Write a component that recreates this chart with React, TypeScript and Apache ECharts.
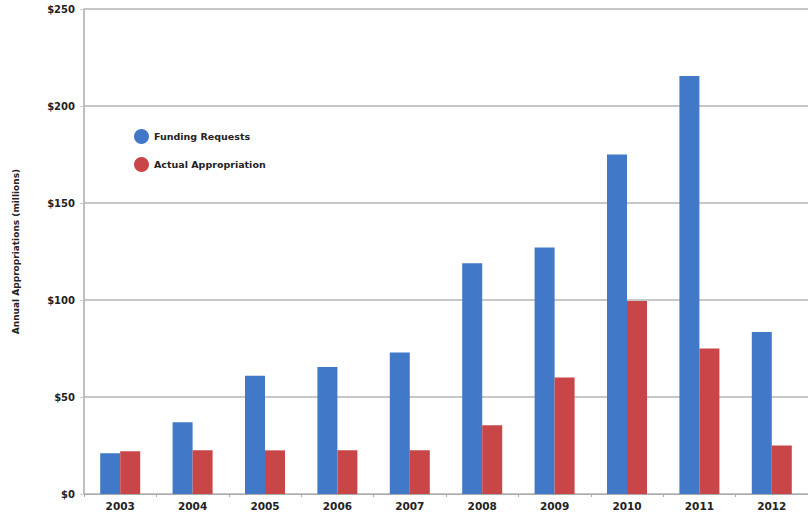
import React, { useEffect, useRef } from "react";
import * as echarts from "echarts";

const categories = ["2003", "2004", "2005", "2006", "2007", "2008", "2009", "2010", "2011", "2012"];
const fundingRequests = [21, 37, 61, 65.5, 73, 119, 127, 175, 215.5, 83.5];
const actualAppropriation = [22, 22.5, 22.5, 22.5, 22.5, 35.5, 60, 99.5, 75, 25];
const yTicks = [0, 50, 100, 150, 200, 250];

export default function App() {
  const ref = useRef<HTMLDivElement>(null);
  useEffect(() => {
    if (!ref.current) return;
    const chart = echarts.init(ref.current, null, { renderer: "svg" });
    const font = "DejaVu Sans";
    chart.setOption({
      animation: false,
      backgroundColor: "#ffffff",
      grid: { left: 84, right: -8, top: 9, bottom: 25, containLabel: false },
      legend: {
        orient: "vertical",
        left: 129,
        top: 124,
        itemGap: 13,
        itemWidth: 15,
        itemHeight: 15,
        icon: "circle",
        textStyle: { fontFamily: font, fontWeight: "bold", fontSize: 9.5, color: "#222" },
        data: ["Funding Requests", "Actual Appropriation"],
      },
      xAxis: {
        type: "category",
        data: categories,
        axisLine: { lineStyle: { color: "#aaa", width: 1 } },
        axisTick: { show: true, length: 3, lineStyle: { color: "#aaa" } },
        axisLabel: { fontFamily: font, fontWeight: "bold", fontSize: 10.5, color: "#222", margin: 6 },
      },
      yAxis: {
        type: "value",
        min: 0,
        max: 250,
        interval: 50,
        name: "Annual Appropriations (millions)",
        nameLocation: "middle",
        nameGap: 64,
        nameTextStyle: { fontFamily: font, fontWeight: "bold", fontSize: 9, color: "#222" },
        axisLine: { show: true, lineStyle: { color: "#aaa", width: 1.5 } },
        axisTick: { show: true, length: 4, lineStyle: { color: "#ccc" } },
        splitLine: { show: true, lineStyle: { color: "#b5b5b5", width: 1.5 } },
        axisLabel: {
          fontFamily: font,
          fontWeight: "bold",
          fontSize: 10,
          color: "#222",
          margin: 9,
          formatter: (v: number) => (yTicks.includes(v) ? "$" + v : ""),
        },
      },
      series: [
        {
          name: "Funding Requests",
          type: "bar",
          data: fundingRequests,
          barWidth: 20,
          barGap: "0%",
          itemStyle: { color: "#4179c8" },
        },
        {
          name: "Actual Appropriation",
          type: "bar",
          data: actualAppropriation,
          barWidth: 20,
          barGap: "0%",
          itemStyle: { color: "#c94648" },
        },
      ],
    });
    return () => chart.dispose();
  }, []);
  return (
    <div
      ref={ref}
      style={{ position: "fixed", left: 0, top: 0, width: 808, height: 519 }}
    />
  );
}
